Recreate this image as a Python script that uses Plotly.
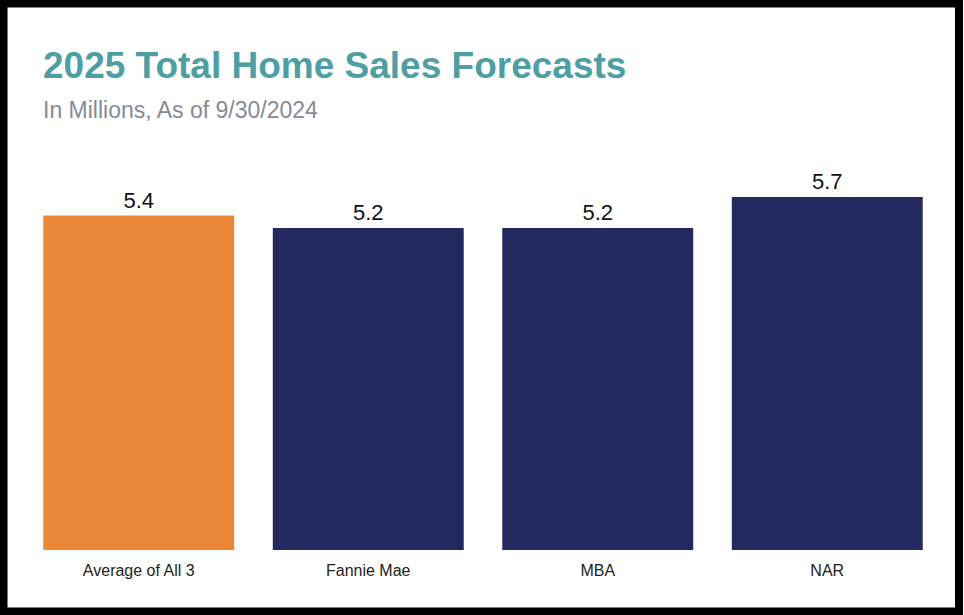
import plotly.graph_objects as go

# 2025 total home sales forecasts, in millions
sources = ["Average of All 3", "Fannie Mae", "MBA", "NAR"]
forecast = [5.4, 5.2, 5.2, 5.7]
bar_colors = ["#EA8838", "#23295E", "#23295E", "#23295E"]

W, H = 964, 615
ML, MR, MT, MB = 24, 22, 166, 65
pw = W - ML - MR
ph = H - MT - MB


def px_x(p):
    return (p - ML) / pw


def px_y(p):
    return (H - MB - p) / ph


fig = go.Figure()
fig.add_trace(go.Bar(
    x=sources, y=forecast,
    marker=dict(color=bar_colors, line=dict(width=0)),
    text=[f"{v:.1f}" for v in forecast],
    textposition="outside",
    textfont=dict(size=22, color="#111111"),
    cliponaxis=False,
    hoverinfo="x+y",
))

fig.add_annotation(text="<b>2025 Total Home Sales Forecasts</b>", xref="paper", yref="paper",
                   x=px_x(41), y=px_y(66), xanchor="left", yanchor="middle", showarrow=False,
                   font=dict(size=37, color="#4E9FA3"))
fig.add_annotation(text="In Millions, As of 9/30/2024", xref="paper", yref="paper",
                   x=px_x(41), y=px_y(110), xanchor="left", yanchor="middle", showarrow=False,
                   font=dict(size=23, color="#868A94"))

# black frame around the picture
fig.add_shape(type="rect", xref="paper", yref="paper",
              x0=px_x(3.5), x1=px_x(959), y0=px_y(611.5), y1=px_y(3.5),
              line=dict(color="black", width=8), fillcolor="rgba(0,0,0,0)")

fig.update_layout(
    width=W, height=H,
    margin=dict(l=ML, r=MR, t=MT, b=MB),
    paper_bgcolor="white", plot_bgcolor="white",
    font=dict(family="Liberation Sans, Arial, sans-serif", color="#222222"),
    bargap=0.168,
    showlegend=False,
    xaxis=dict(showline=False, showgrid=False, ticks="", ticklabelstandoff=9,
               tickfont=dict(size=16, color="#222222")),
    yaxis=dict(range=[0, 6.2], visible=False),
)

fig.write_html("out.html", config={"displayModeBar": False},
               post_script="document.body.style.margin='0';")
